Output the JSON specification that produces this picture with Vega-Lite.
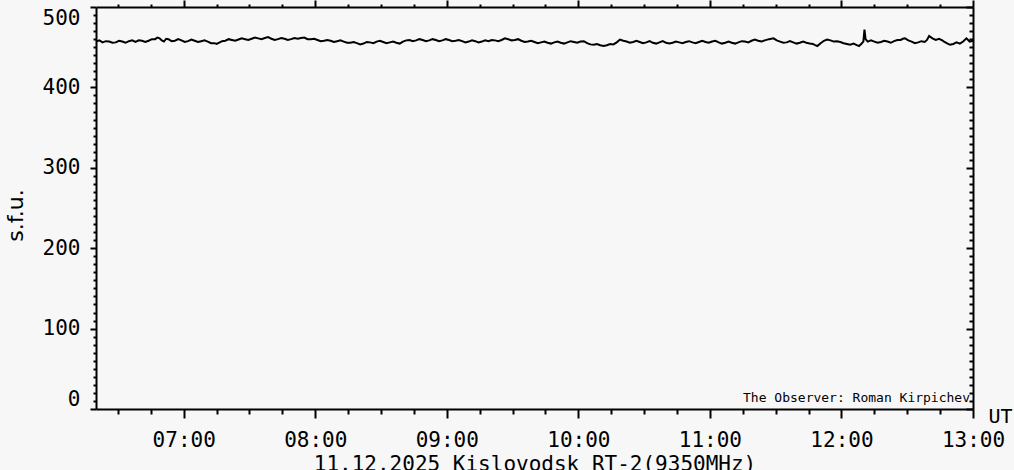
{
  "$schema": "https://vega.github.io/schema/vega-lite/v6.json",
  "width": 877,
  "height": 402,
  "autosize": "none",
  "padding": {"left": 96, "top": 7, "right": 41, "bottom": 61},
  "background": "#f7f7f7",
  "config": {
    "view": {"stroke": null},
    "axis": {
      "domainColor": "black", "domainWidth": 2, "tickColor": "black", "tickWidth": 2,
      "labelColor": "black", "titleColor": "black", "labelFont": "DejaVu Sans Mono", "titleFont": "DejaVu Sans Mono",
      "grid": false, "titleFontWeight": "normal"
    }
  },
  "resolve": {"axis": {"x": "independent", "y": "independent"}},
  "layer": [
    {
      "data": {"values": [
        {"time": "2025-12-11T06:20:00Z", "sfu": 457},
        {"time": "2025-12-11T06:21:30Z", "sfu": 458.5},
        {"time": "2025-12-11T06:23:00Z", "sfu": 456},
        {"time": "2025-12-11T06:24:30Z", "sfu": 457.5},
        {"time": "2025-12-11T06:26:00Z", "sfu": 457},
        {"time": "2025-12-11T06:27:30Z", "sfu": 455.5},
        {"time": "2025-12-11T06:29:00Z", "sfu": 456},
        {"time": "2025-12-11T06:30:30Z", "sfu": 458},
        {"time": "2025-12-11T06:32:00Z", "sfu": 457},
        {"time": "2025-12-11T06:33:30Z", "sfu": 455.5},
        {"time": "2025-12-11T06:35:00Z", "sfu": 457.5},
        {"time": "2025-12-11T06:36:30Z", "sfu": 458.5},
        {"time": "2025-12-11T06:38:00Z", "sfu": 456.5},
        {"time": "2025-12-11T06:39:30Z", "sfu": 458.5},
        {"time": "2025-12-11T06:41:00Z", "sfu": 458},
        {"time": "2025-12-11T06:42:30Z", "sfu": 456.5},
        {"time": "2025-12-11T06:44:00Z", "sfu": 458},
        {"time": "2025-12-11T06:45:30Z", "sfu": 460},
        {"time": "2025-12-11T06:47:00Z", "sfu": 460},
        {"time": "2025-12-11T06:48:00Z", "sfu": 462},
        {"time": "2025-12-11T06:49:00Z", "sfu": 461},
        {"time": "2025-12-11T06:50:00Z", "sfu": 458.5},
        {"time": "2025-12-11T06:51:00Z", "sfu": 457},
        {"time": "2025-12-11T06:52:00Z", "sfu": 460.5},
        {"time": "2025-12-11T06:53:00Z", "sfu": 460},
        {"time": "2025-12-11T06:54:30Z", "sfu": 457.5},
        {"time": "2025-12-11T06:56:00Z", "sfu": 458},
        {"time": "2025-12-11T06:57:30Z", "sfu": 460},
        {"time": "2025-12-11T06:59:00Z", "sfu": 458.5},
        {"time": "2025-12-11T07:00:30Z", "sfu": 456.5},
        {"time": "2025-12-11T07:02:00Z", "sfu": 457.5},
        {"time": "2025-12-11T07:03:30Z", "sfu": 459.5},
        {"time": "2025-12-11T07:05:00Z", "sfu": 458},
        {"time": "2025-12-11T07:06:30Z", "sfu": 456.5},
        {"time": "2025-12-11T07:08:00Z", "sfu": 457.5},
        {"time": "2025-12-11T07:09:30Z", "sfu": 458.5},
        {"time": "2025-12-11T07:11:00Z", "sfu": 457},
        {"time": "2025-12-11T07:12:30Z", "sfu": 455},
        {"time": "2025-12-11T07:14:00Z", "sfu": 455},
        {"time": "2025-12-11T07:15:00Z", "sfu": 454},
        {"time": "2025-12-11T07:16:00Z", "sfu": 455.5},
        {"time": "2025-12-11T07:17:30Z", "sfu": 457.5},
        {"time": "2025-12-11T07:19:00Z", "sfu": 458},
        {"time": "2025-12-11T07:20:30Z", "sfu": 460},
        {"time": "2025-12-11T07:22:00Z", "sfu": 459},
        {"time": "2025-12-11T07:23:30Z", "sfu": 458},
        {"time": "2025-12-11T07:25:00Z", "sfu": 459.5},
        {"time": "2025-12-11T07:26:30Z", "sfu": 461},
        {"time": "2025-12-11T07:28:00Z", "sfu": 460},
        {"time": "2025-12-11T07:29:30Z", "sfu": 459},
        {"time": "2025-12-11T07:31:00Z", "sfu": 460.5},
        {"time": "2025-12-11T07:32:30Z", "sfu": 462},
        {"time": "2025-12-11T07:34:00Z", "sfu": 461},
        {"time": "2025-12-11T07:35:30Z", "sfu": 460},
        {"time": "2025-12-11T07:37:00Z", "sfu": 461.5},
        {"time": "2025-12-11T07:38:30Z", "sfu": 462.5},
        {"time": "2025-12-11T07:40:00Z", "sfu": 460.5},
        {"time": "2025-12-11T07:41:30Z", "sfu": 459},
        {"time": "2025-12-11T07:43:00Z", "sfu": 460},
        {"time": "2025-12-11T07:44:30Z", "sfu": 461.5},
        {"time": "2025-12-11T07:46:00Z", "sfu": 460.5},
        {"time": "2025-12-11T07:47:30Z", "sfu": 459},
        {"time": "2025-12-11T07:49:00Z", "sfu": 460},
        {"time": "2025-12-11T07:50:30Z", "sfu": 461.5},
        {"time": "2025-12-11T07:52:00Z", "sfu": 460.5},
        {"time": "2025-12-11T07:53:30Z", "sfu": 461.5},
        {"time": "2025-12-11T07:55:00Z", "sfu": 462},
        {"time": "2025-12-11T07:56:30Z", "sfu": 460},
        {"time": "2025-12-11T07:58:00Z", "sfu": 460},
        {"time": "2025-12-11T07:59:30Z", "sfu": 460.5},
        {"time": "2025-12-11T08:01:00Z", "sfu": 459},
        {"time": "2025-12-11T08:02:30Z", "sfu": 457.5},
        {"time": "2025-12-11T08:04:00Z", "sfu": 458},
        {"time": "2025-12-11T08:05:30Z", "sfu": 459},
        {"time": "2025-12-11T08:07:00Z", "sfu": 458},
        {"time": "2025-12-11T08:08:30Z", "sfu": 456.5},
        {"time": "2025-12-11T08:10:00Z", "sfu": 457.5},
        {"time": "2025-12-11T08:11:30Z", "sfu": 458.5},
        {"time": "2025-12-11T08:13:00Z", "sfu": 457},
        {"time": "2025-12-11T08:14:30Z", "sfu": 455.5},
        {"time": "2025-12-11T08:16:00Z", "sfu": 455.5},
        {"time": "2025-12-11T08:17:30Z", "sfu": 456.5},
        {"time": "2025-12-11T08:19:00Z", "sfu": 455},
        {"time": "2025-12-11T08:20:30Z", "sfu": 453.5},
        {"time": "2025-12-11T08:22:00Z", "sfu": 454.5},
        {"time": "2025-12-11T08:23:30Z", "sfu": 456.5},
        {"time": "2025-12-11T08:25:00Z", "sfu": 456},
        {"time": "2025-12-11T08:26:30Z", "sfu": 455},
        {"time": "2025-12-11T08:28:00Z", "sfu": 457},
        {"time": "2025-12-11T08:29:30Z", "sfu": 458},
        {"time": "2025-12-11T08:31:00Z", "sfu": 456.5},
        {"time": "2025-12-11T08:32:30Z", "sfu": 455},
        {"time": "2025-12-11T08:34:00Z", "sfu": 456},
        {"time": "2025-12-11T08:35:30Z", "sfu": 457},
        {"time": "2025-12-11T08:37:00Z", "sfu": 455.5},
        {"time": "2025-12-11T08:38:30Z", "sfu": 454.5},
        {"time": "2025-12-11T08:40:00Z", "sfu": 457},
        {"time": "2025-12-11T08:41:30Z", "sfu": 458.5},
        {"time": "2025-12-11T08:43:00Z", "sfu": 459},
        {"time": "2025-12-11T08:44:30Z", "sfu": 457.5},
        {"time": "2025-12-11T08:46:00Z", "sfu": 458.5},
        {"time": "2025-12-11T08:47:30Z", "sfu": 460},
        {"time": "2025-12-11T08:49:00Z", "sfu": 459},
        {"time": "2025-12-11T08:50:30Z", "sfu": 457.5},
        {"time": "2025-12-11T08:52:00Z", "sfu": 458.5},
        {"time": "2025-12-11T08:53:30Z", "sfu": 460},
        {"time": "2025-12-11T08:55:00Z", "sfu": 459},
        {"time": "2025-12-11T08:56:30Z", "sfu": 457.5},
        {"time": "2025-12-11T08:58:00Z", "sfu": 458.5},
        {"time": "2025-12-11T08:59:30Z", "sfu": 460},
        {"time": "2025-12-11T09:01:00Z", "sfu": 459},
        {"time": "2025-12-11T09:02:30Z", "sfu": 457.5},
        {"time": "2025-12-11T09:04:00Z", "sfu": 458},
        {"time": "2025-12-11T09:05:30Z", "sfu": 459},
        {"time": "2025-12-11T09:07:00Z", "sfu": 457.5},
        {"time": "2025-12-11T09:08:30Z", "sfu": 456},
        {"time": "2025-12-11T09:10:00Z", "sfu": 457},
        {"time": "2025-12-11T09:11:30Z", "sfu": 458.5},
        {"time": "2025-12-11T09:13:00Z", "sfu": 457.5},
        {"time": "2025-12-11T09:14:30Z", "sfu": 456},
        {"time": "2025-12-11T09:16:00Z", "sfu": 457},
        {"time": "2025-12-11T09:17:30Z", "sfu": 458.5},
        {"time": "2025-12-11T09:19:00Z", "sfu": 457.5},
        {"time": "2025-12-11T09:20:30Z", "sfu": 459},
        {"time": "2025-12-11T09:22:00Z", "sfu": 458.5},
        {"time": "2025-12-11T09:23:30Z", "sfu": 457.5},
        {"time": "2025-12-11T09:25:00Z", "sfu": 459},
        {"time": "2025-12-11T09:26:30Z", "sfu": 461},
        {"time": "2025-12-11T09:28:00Z", "sfu": 460},
        {"time": "2025-12-11T09:29:30Z", "sfu": 458.5},
        {"time": "2025-12-11T09:31:00Z", "sfu": 459},
        {"time": "2025-12-11T09:32:30Z", "sfu": 460},
        {"time": "2025-12-11T09:34:00Z", "sfu": 458},
        {"time": "2025-12-11T09:35:30Z", "sfu": 456.5},
        {"time": "2025-12-11T09:37:00Z", "sfu": 457},
        {"time": "2025-12-11T09:38:30Z", "sfu": 458},
        {"time": "2025-12-11T09:40:00Z", "sfu": 456.5},
        {"time": "2025-12-11T09:41:30Z", "sfu": 455},
        {"time": "2025-12-11T09:43:00Z", "sfu": 456},
        {"time": "2025-12-11T09:44:30Z", "sfu": 457},
        {"time": "2025-12-11T09:46:00Z", "sfu": 455.5},
        {"time": "2025-12-11T09:47:30Z", "sfu": 454.5},
        {"time": "2025-12-11T09:49:00Z", "sfu": 456},
        {"time": "2025-12-11T09:50:30Z", "sfu": 457},
        {"time": "2025-12-11T09:52:00Z", "sfu": 455.5},
        {"time": "2025-12-11T09:53:30Z", "sfu": 454.5},
        {"time": "2025-12-11T09:55:00Z", "sfu": 456},
        {"time": "2025-12-11T09:56:30Z", "sfu": 457.5},
        {"time": "2025-12-11T09:58:00Z", "sfu": 456.5},
        {"time": "2025-12-11T09:59:30Z", "sfu": 455.5},
        {"time": "2025-12-11T10:01:00Z", "sfu": 457},
        {"time": "2025-12-11T10:02:30Z", "sfu": 457.5},
        {"time": "2025-12-11T10:04:00Z", "sfu": 455},
        {"time": "2025-12-11T10:05:30Z", "sfu": 453.5},
        {"time": "2025-12-11T10:07:00Z", "sfu": 453},
        {"time": "2025-12-11T10:08:30Z", "sfu": 454},
        {"time": "2025-12-11T10:10:00Z", "sfu": 452.5},
        {"time": "2025-12-11T10:11:30Z", "sfu": 451.5},
        {"time": "2025-12-11T10:13:00Z", "sfu": 452.5},
        {"time": "2025-12-11T10:14:30Z", "sfu": 454},
        {"time": "2025-12-11T10:16:00Z", "sfu": 453.5},
        {"time": "2025-12-11T10:17:30Z", "sfu": 456},
        {"time": "2025-12-11T10:19:00Z", "sfu": 459.5},
        {"time": "2025-12-11T10:20:30Z", "sfu": 458},
        {"time": "2025-12-11T10:22:00Z", "sfu": 457},
        {"time": "2025-12-11T10:23:30Z", "sfu": 455.5},
        {"time": "2025-12-11T10:25:00Z", "sfu": 456.5},
        {"time": "2025-12-11T10:26:30Z", "sfu": 458},
        {"time": "2025-12-11T10:28:00Z", "sfu": 456.5},
        {"time": "2025-12-11T10:29:30Z", "sfu": 455},
        {"time": "2025-12-11T10:31:00Z", "sfu": 456},
        {"time": "2025-12-11T10:32:30Z", "sfu": 457.5},
        {"time": "2025-12-11T10:34:00Z", "sfu": 455.5},
        {"time": "2025-12-11T10:35:30Z", "sfu": 454.5},
        {"time": "2025-12-11T10:37:00Z", "sfu": 456},
        {"time": "2025-12-11T10:38:30Z", "sfu": 457.5},
        {"time": "2025-12-11T10:40:00Z", "sfu": 455.5},
        {"time": "2025-12-11T10:41:30Z", "sfu": 454.5},
        {"time": "2025-12-11T10:43:00Z", "sfu": 455.5},
        {"time": "2025-12-11T10:44:30Z", "sfu": 457},
        {"time": "2025-12-11T10:46:00Z", "sfu": 456},
        {"time": "2025-12-11T10:47:30Z", "sfu": 455},
        {"time": "2025-12-11T10:49:00Z", "sfu": 456.5},
        {"time": "2025-12-11T10:50:30Z", "sfu": 457.5},
        {"time": "2025-12-11T10:52:00Z", "sfu": 456},
        {"time": "2025-12-11T10:53:30Z", "sfu": 455},
        {"time": "2025-12-11T10:55:00Z", "sfu": 456.5},
        {"time": "2025-12-11T10:56:30Z", "sfu": 458},
        {"time": "2025-12-11T10:58:00Z", "sfu": 456.5},
        {"time": "2025-12-11T10:59:30Z", "sfu": 455.5},
        {"time": "2025-12-11T11:01:00Z", "sfu": 457},
        {"time": "2025-12-11T11:02:30Z", "sfu": 458},
        {"time": "2025-12-11T11:04:00Z", "sfu": 456},
        {"time": "2025-12-11T11:05:30Z", "sfu": 454.5},
        {"time": "2025-12-11T11:07:00Z", "sfu": 455.5},
        {"time": "2025-12-11T11:08:30Z", "sfu": 457},
        {"time": "2025-12-11T11:10:00Z", "sfu": 455.5},
        {"time": "2025-12-11T11:11:30Z", "sfu": 454.5},
        {"time": "2025-12-11T11:13:00Z", "sfu": 456},
        {"time": "2025-12-11T11:14:30Z", "sfu": 457.5},
        {"time": "2025-12-11T11:16:00Z", "sfu": 457},
        {"time": "2025-12-11T11:17:30Z", "sfu": 456},
        {"time": "2025-12-11T11:19:00Z", "sfu": 458},
        {"time": "2025-12-11T11:20:30Z", "sfu": 459.5},
        {"time": "2025-12-11T11:22:00Z", "sfu": 458},
        {"time": "2025-12-11T11:23:30Z", "sfu": 457},
        {"time": "2025-12-11T11:25:00Z", "sfu": 458.5},
        {"time": "2025-12-11T11:27:00Z", "sfu": 460},
        {"time": "2025-12-11T11:29:00Z", "sfu": 461},
        {"time": "2025-12-11T11:30:30Z", "sfu": 458.5},
        {"time": "2025-12-11T11:32:00Z", "sfu": 457},
        {"time": "2025-12-11T11:33:30Z", "sfu": 455.5},
        {"time": "2025-12-11T11:35:00Z", "sfu": 456},
        {"time": "2025-12-11T11:36:30Z", "sfu": 457.5},
        {"time": "2025-12-11T11:38:00Z", "sfu": 456},
        {"time": "2025-12-11T11:39:30Z", "sfu": 454.5},
        {"time": "2025-12-11T11:41:00Z", "sfu": 455.5},
        {"time": "2025-12-11T11:42:30Z", "sfu": 457},
        {"time": "2025-12-11T11:44:00Z", "sfu": 455.5},
        {"time": "2025-12-11T11:45:30Z", "sfu": 454.5},
        {"time": "2025-12-11T11:47:00Z", "sfu": 454},
        {"time": "2025-12-11T11:48:00Z", "sfu": 452.5},
        {"time": "2025-12-11T11:49:00Z", "sfu": 451.5},
        {"time": "2025-12-11T11:50:30Z", "sfu": 455},
        {"time": "2025-12-11T11:52:00Z", "sfu": 458},
        {"time": "2025-12-11T11:53:30Z", "sfu": 459.5},
        {"time": "2025-12-11T11:55:00Z", "sfu": 458.5},
        {"time": "2025-12-11T11:56:30Z", "sfu": 457},
        {"time": "2025-12-11T11:58:00Z", "sfu": 457.5},
        {"time": "2025-12-11T11:59:30Z", "sfu": 456.5},
        {"time": "2025-12-11T12:01:00Z", "sfu": 455},
        {"time": "2025-12-11T12:02:30Z", "sfu": 454},
        {"time": "2025-12-11T12:04:00Z", "sfu": 453},
        {"time": "2025-12-11T12:05:30Z", "sfu": 454.5},
        {"time": "2025-12-11T12:07:00Z", "sfu": 452.5},
        {"time": "2025-12-11T12:08:00Z", "sfu": 451.5},
        {"time": "2025-12-11T12:09:00Z", "sfu": 454},
        {"time": "2025-12-11T12:10:00Z", "sfu": 457},
        {"time": "2025-12-11T12:10:30Z", "sfu": 472},
        {"time": "2025-12-11T12:11:00Z", "sfu": 460},
        {"time": "2025-12-11T12:12:00Z", "sfu": 457},
        {"time": "2025-12-11T12:13:30Z", "sfu": 458.5},
        {"time": "2025-12-11T12:15:00Z", "sfu": 457},
        {"time": "2025-12-11T12:16:30Z", "sfu": 455.5},
        {"time": "2025-12-11T12:18:00Z", "sfu": 456.5},
        {"time": "2025-12-11T12:19:30Z", "sfu": 458},
        {"time": "2025-12-11T12:21:00Z", "sfu": 457},
        {"time": "2025-12-11T12:22:30Z", "sfu": 455.5},
        {"time": "2025-12-11T12:24:00Z", "sfu": 457.5},
        {"time": "2025-12-11T12:25:30Z", "sfu": 459},
        {"time": "2025-12-11T12:27:00Z", "sfu": 459},
        {"time": "2025-12-11T12:28:00Z", "sfu": 460.5},
        {"time": "2025-12-11T12:29:00Z", "sfu": 461},
        {"time": "2025-12-11T12:30:30Z", "sfu": 458.5},
        {"time": "2025-12-11T12:32:00Z", "sfu": 457},
        {"time": "2025-12-11T12:33:30Z", "sfu": 455},
        {"time": "2025-12-11T12:35:00Z", "sfu": 456},
        {"time": "2025-12-11T12:36:30Z", "sfu": 457.5},
        {"time": "2025-12-11T12:38:00Z", "sfu": 456.5},
        {"time": "2025-12-11T12:39:00Z", "sfu": 459},
        {"time": "2025-12-11T12:40:00Z", "sfu": 464},
        {"time": "2025-12-11T12:41:30Z", "sfu": 461},
        {"time": "2025-12-11T12:43:00Z", "sfu": 459},
        {"time": "2025-12-11T12:44:30Z", "sfu": 460.5},
        {"time": "2025-12-11T12:46:00Z", "sfu": 458.5},
        {"time": "2025-12-11T12:47:00Z", "sfu": 456.5},
        {"time": "2025-12-11T12:48:00Z", "sfu": 455},
        {"time": "2025-12-11T12:49:30Z", "sfu": 453},
        {"time": "2025-12-11T12:51:00Z", "sfu": 454},
        {"time": "2025-12-11T12:52:30Z", "sfu": 456},
        {"time": "2025-12-11T12:54:00Z", "sfu": 454.5},
        {"time": "2025-12-11T12:55:30Z", "sfu": 457},
        {"time": "2025-12-11T12:57:00Z", "sfu": 461},
        {"time": "2025-12-11T12:58:30Z", "sfu": 457},
        {"time": "2025-12-11T13:00:00Z", "sfu": 458}
      ]},
      "mark": {"type": "line", "color": "black", "strokeWidth": 2},
      "encoding": {
        "x": {
          "field": "time", "type": "temporal",
          "scale": {"type": "utc", "nice": false, "domain": [
            {"year": 2025, "month": 12, "date": 11, "hours": 6, "minutes": 20, "utc": true},
            {"year": 2025, "month": 12, "date": 11, "hours": 13, "minutes": 0, "utc": true}
          ]},
          "axis": {
            "orient": "bottom",
            "values": [1765434600000, 1765435500000, 1765436400000, 1765437300000, 1765438200000, 1765439100000, 1765440000000, 1765440900000, 1765441800000, 1765442700000, 1765443600000, 1765444500000, 1765445400000, 1765446300000, 1765447200000, 1765448100000, 1765449000000, 1765449900000, 1765450800000, 1765451700000, 1765452600000, 1765453500000, 1765454400000, 1765455300000, 1765456200000, 1765457100000, 1765458000000],
            "format": "%H:%M",
            "labelExpr": "utcminutes(datum.value) == 0 ? datum.label : ''",
            "labelFlush": false,
            "labelOverlap": false,
            "labelFontSize": 21,
            "labelPadding": 11,
            "tickSize": {"condition": {"test": "utcminutes(datum.value) == 0", "value": 9}, "value": 5},
            "title": "11.12.2025 Kislovodsk RT-2(9350MHz)",
            "titleFontSize": 21,
            "titleY": 61,
            "titleBaseline": "alphabetic"
          }
        },
        "y": {
          "field": "sfu", "type": "quantitative",
          "scale": {"domain": [0, 500], "nice": false, "zero": true},
          "axis": {
            "orient": "left",
            "values": [0,10,20,30,40,50,60,70,80,90,100,110,120,130,140,150,160,170,180,190,200,210,220,230,240,250,260,270,280,290,300,310,320,330,340,350,360,370,380,390,400,410,420,430,440,450,460,470,480,490,500],
            "labelExpr": "datum.value % 100 == 0 ? datum.label : ''",
            "labelOverlap": false,
            "labelFlush": true,
            "labelFontSize": 21,
            "labelPadding": 10,
            "tickSize": {"condition": {"test": "datum.value % 100 == 0", "value": 6}, "value": 3},
            "title": "s.f.u.",
            "titleFont": "DejaVu Sans",
            "titleFontSize": 22,
            "titleAngle": -90,
            "titleX": -81,
            "titleY": 208,
            "titleAlign": "center",
            "titleBaseline": "middle"
          }
        }
      }
    },
    {
      "data": {"values": [{"note": "The Observer: Roman Kirpichev"}]},
      "mark": {"type": "text", "align": "right", "baseline": "alphabetic", "dx": -3, "dy": -7, "font": "DejaVu Sans Mono", "fontSize": 13, "color": "black"},
      "encoding": {
        "x": {
          "datum": {"year": 2025, "month": 12, "date": 11, "hours": 13, "minutes": 0, "utc": true},
          "type": "temporal",
          "axis": {
            "orient": "top",
            "values": [1765434600000, 1765435500000, 1765436400000, 1765437300000, 1765438200000, 1765439100000, 1765440000000, 1765440900000, 1765441800000, 1765442700000, 1765443600000, 1765444500000, 1765445400000, 1765446300000, 1765447200000, 1765448100000, 1765449000000, 1765449900000, 1765450800000, 1765451700000, 1765452600000, 1765453500000, 1765454400000, 1765455300000, 1765456200000, 1765457100000, 1765458000000],
            "labels": false,
            "tickSize": {"condition": {"test": "utcminutes(datum.value) == 0", "value": 7}, "value": 3},
            "title": null
          }
        },
        "y": {
          "datum": 0,
          "type": "quantitative",
          "axis": {
            "orient": "right",
            "values": [0,10,20,30,40,50,60,70,80,90,100,110,120,130,140,150,160,170,180,190,200,210,220,230,240,250,260,270,280,290,300,310,320,330,340,350,360,370,380,390,400,410,420,430,440,450,460,470,480,490,500],
            "labels": false,
            "tickSize": {"condition": {"test": "datum.value % 100 == 0", "value": -7}, "value": -4},
            "title": "UT",
            "titleFontSize": 20,
            "titleAngle": 0,
            "titleX": 15,
            "titleY": 415,
            "titleAlign": "left",
            "titleBaseline": "alphabetic"
          }
        },
        "text": {"field": "note"}
      }
    }
  ]
}
